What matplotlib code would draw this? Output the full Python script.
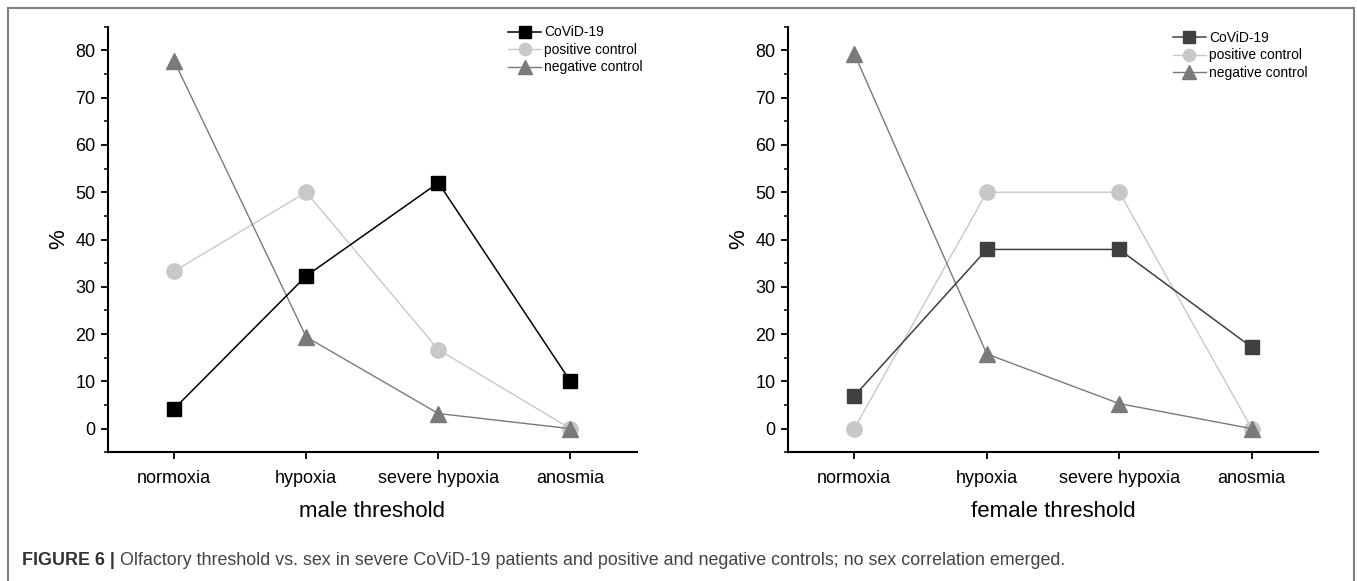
import matplotlib
matplotlib.use("Agg")
import matplotlib.pyplot as plt
from matplotlib.ticker import MultipleLocator
from matplotlib.lines import Line2D

plt.rcParams['font.family'] = ['Liberation Sans', 'DejaVu Sans']

# data (percent)
categories = ['normoxia', 'hypoxia', 'severe hypoxia', 'anosmia']
series_names = ['CoViD-19', 'positive control', 'negative control']

male_covid = [4.2, 32.3, 52.0, 10.0]
male_pos = [33.3, 50.0, 16.7, 0.0]
male_neg = [77.8, 19.4, 3.2, 0.0]

female_covid = [6.9, 37.9, 37.9, 17.2]
female_pos = [0.0, 50.0, 50.0, 0.0]
female_neg = [79.3, 15.8, 5.3, 0.0]

caption_bold = 'FIGURE 6 | '
caption_text = ('Olfactory threshold vs. sex in severe CoViD-19 patients and positive '
                'and negative controls; no sex correlation emerged.')

W, H = 1357, 581
fig = plt.figure(figsize=(W / 100, H / 100), dpi=100)

x = [1, 2, 3, 4]


def panel(rect, covid, pos, neg, covid_color, xlabel, leg_x, leg_y):
    ax = fig.add_axes(rect)
    ax.plot(x, pos, color='#c8c8c8', marker='o', markersize=11, lw=1.0,
            label=series_names[1], zorder=2)
    ax.plot(x, neg, color='#7a7a7a', marker='^', markersize=12, lw=1.0,
            label=series_names[2], zorder=3)
    ax.plot(x, covid, color=covid_color, marker='s', markersize=10, lw=1.1,
            label=series_names[0], zorder=4)

    ax.set_xlim(0.5, 4.5)
    ax.set_ylim(-5, 85)
    ax.set_xticks(x)
    ax.set_xticklabels(categories)
    ax.yaxis.set_minor_locator(MultipleLocator(5))
    ax.set_yticks(range(0, 81, 10))
    for s in ['top', 'right']:
        ax.spines[s].set_visible(False)
    for s in ['left', 'bottom']:
        ax.spines[s].set_linewidth(1.5)
    ax.tick_params(axis='both', which='major', direction='out', length=5,
                   width=1.3, labelsize=13, pad=4)
    ax.tick_params(axis='y', which='minor', direction='out', length=3, width=1.1)
    ax.tick_params(axis='x', pad=8)
    ax.set_xlabel(xlabel, fontsize=16, labelpad=10)
    ax.set_ylabel('%', fontsize=16, labelpad=4)

    h, l = ax.get_legend_handles_labels()
    order = [2, 0, 1]
    ax.legend([h[i] for i in order], [l[i] for i in order], loc='upper left',
              bbox_to_anchor=(leg_x, leg_y), frameon=False, fontsize=10,
              markerscale=0.8, handlelength=2.4, handletextpad=0.2,
              labelspacing=0.25, borderpad=0, borderaxespad=0)
    return ax


panel([0.0796, 0.2215, 0.3895, 0.7325], male_covid, male_pos, male_neg,
      '#000000', 'male threshold', 0.757, 1.003)
panel([0.5807, 0.2215, 0.3906, 0.7325], female_covid, female_pos, female_neg,
      '#404040', 'female threshold', 0.726, 0.99)

# caption, sized so it spans the same width as in the original
cap_size = 10
t1 = fig.text(22 / W, 1 - 565 / H, caption_bold, fontsize=cap_size,
              fontweight='bold', color='#333333', va='baseline')
fig.canvas.draw()
bb = t1.get_window_extent()
t2 = fig.text(bb.x1 / W, 1 - 565 / H, caption_text, fontsize=cap_size,
              color='#444444', va='baseline')
fig.canvas.draw()
scale = (1070 - 22) / (t2.get_window_extent().x1 - 22)
t1.set_fontsize(cap_size * scale)
t2.set_fontsize(cap_size * scale)
fig.canvas.draw()
t2.set_x(t1.get_window_extent().x1 / W)

# frame around the figure (open at the bottom)
frame_color = '#808080'
fig.add_artist(Line2D([8 / W, 8 / W], [0, 1 - 8 / H], transform=fig.transFigure,
                      color=frame_color, lw=1.5))
fig.add_artist(Line2D([8 / W, 1354 / W], [1 - 8 / H, 1 - 8 / H],
                      transform=fig.transFigure, color=frame_color, lw=1.5))
fig.add_artist(Line2D([1354 / W, 1354 / W], [0, 1 - 8 / H],
                      transform=fig.transFigure, color=frame_color, lw=1.5))

fig.savefig('out.png', dpi=100)
